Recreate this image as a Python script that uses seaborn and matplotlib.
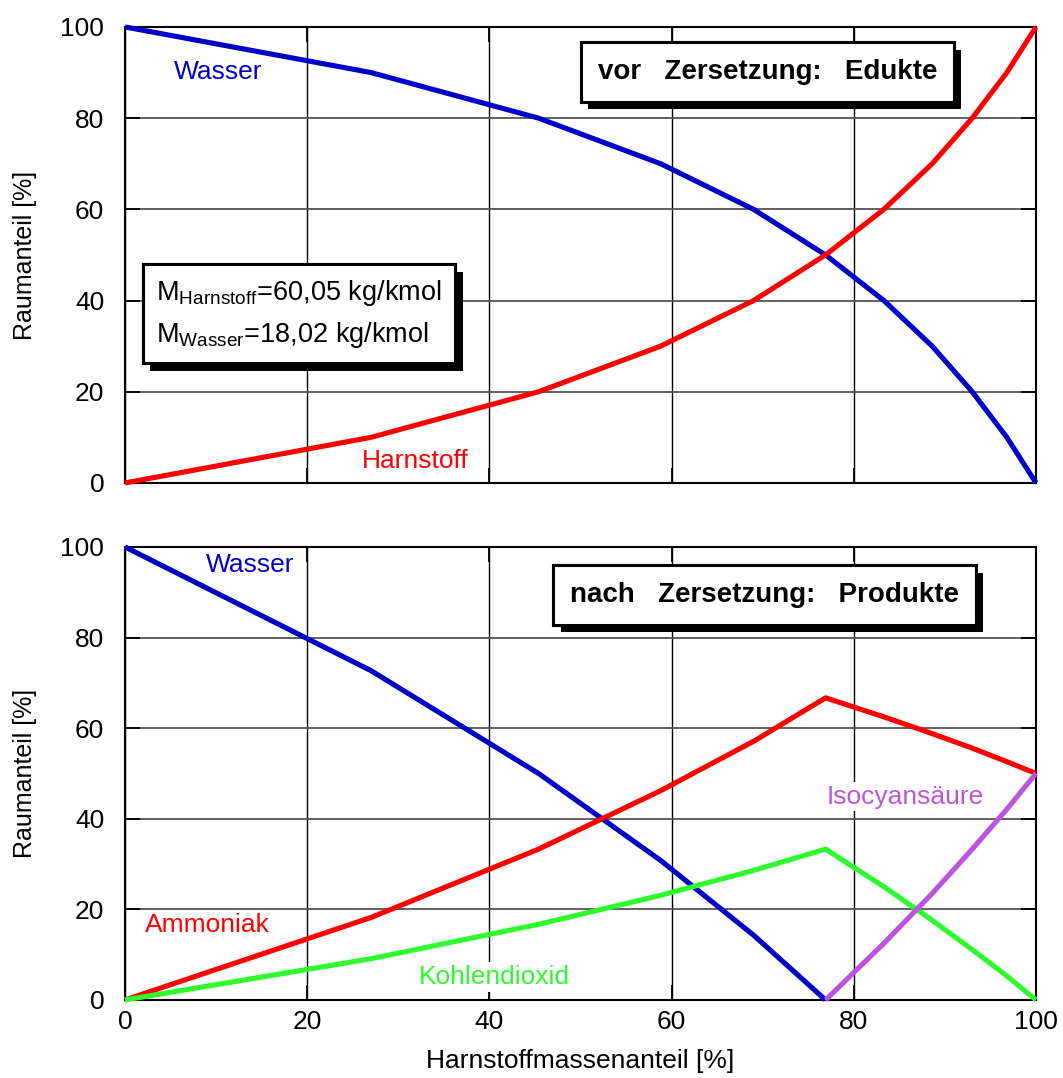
import matplotlib
matplotlib.use("Agg")
import matplotlib.pyplot as plt
import matplotlib.patheffects as pe
import seaborn as sns

# ---- data ----
massenanteil = [0, 27.0, 45.4, 58.8, 69.0, 76.9, 83.3, 88.6, 93.0, 96.8, 100]
edukt_wasser = [100, 90, 80, 70, 60, 50, 40, 30, 20, 10, 0]
edukt_harnstoff = [0, 10, 20, 30, 40, 50, 60, 70, 80, 90, 100]

prod_x_wasser = [0, 27.0, 45.4, 58.8, 69.0, 76.9]
prod_wasser = [100, 72.7, 50.0, 30.8, 14.3, 0]
prod_ammoniak = [0, 18.2, 33.3, 46.2, 57.1, 66.7, 62.5, 58.8, 55.6, 52.6, 50]
prod_co2 = [0, 9.1, 16.7, 23.1, 28.6, 33.3, 25.0, 17.6, 11.1, 5.3, 0]
prod_x_hnco = [76.9, 83.3, 88.6, 93.0, 96.8, 100]
prod_hnco = [0, 12.5, 23.5, 33.3, 42.1, 50]

ticks = [0, 20, 40, 60, 80, 100]

BLUE = "#0000C8"
RED = "#FF0000"
GREEN = "#2EFA2E"
PURPLE = "#BB55DD"

sns.set_theme(style="white")
plt.rcParams["font.family"] = ["Liberation Sans", "DejaVu Sans"]
plt.rcParams["mathtext.fontset"] = "custom"
plt.rcParams["mathtext.rm"] = "Liberation Sans"
plt.rcParams["mathtext.it"] = "Liberation Sans"
for key in ("text.color", "axes.labelcolor", "xtick.color", "ytick.color"):
    plt.rcParams[key] = "black"

fig = plt.figure(figsize=(10.63, 10.78), dpi=100)
ax1 = fig.add_axes([0.1176, 0.552, 0.857, 0.423])
ax2 = fig.add_axes([0.1176, 0.0724, 0.857, 0.4202])

FS = 19
LW = 3.7


def style(ax, show_x):
    ax.set_xlim(0, 100)
    ax.set_ylim(0, 100)
    ax.set_xticks(ticks)
    ax.set_yticks(ticks)
    ax.set_axisbelow(True)
    ax.xaxis.grid(True, color="black", linewidth=1.0)
    ax.yaxis.grid(True, color="#555555", linewidth=1.3)
    ax.tick_params(direction="in", length=11, width=1.3, color="black",
                   top=True, right=True, bottom=True, left=True,
                   labelsize=FS)
    ax.tick_params(axis="y", pad=15)
    ax.tick_params(axis="x", pad=7)
    if not show_x:
        ax.tick_params(labelbottom=False)
    for s in ax.spines.values():
        s.set_color("black")
        s.set_linewidth(1.5)
    ax.set_ylabel("Raumanteil [%]", fontsize=18, labelpad=17)
    ax.set_xlabel("")


def label(ax, x, y, txt, color):
    ax.text(x, y, txt, color=color, fontsize=FS, ha="center", va="center",
            zorder=1.5,
            bbox=dict(facecolor="white", edgecolor="none", pad=2))


def shadow_box(ax, x, y, txt, pad=0.7, fs=FS, **kw):
    t = ax.text(x, y, txt, ha="center", va="center", fontsize=fs, zorder=5,
                bbox=dict(boxstyle=f"square,pad={pad}", facecolor="white",
                          edgecolor="black", linewidth=2.2), **kw)
    t.get_bbox_patch().set_path_effects(
        [pe.withSimplePatchShadow(offset=(5.5, -5.5), shadow_rgbFace="black", alpha=1.0),
         pe.Normal()])
    return t


# ---- top panel: educts ----
sns.lineplot(x=massenanteil, y=edukt_wasser, ax=ax1, color=BLUE, linewidth=LW,
             estimator=None, sort=False, zorder=3)
sns.lineplot(x=massenanteil, y=edukt_harnstoff, ax=ax1, color=RED, linewidth=LW,
             estimator=None, sort=False, zorder=3)
style(ax1, show_x=False)
label(ax1, 10.2, 90.1, "Wasser", BLUE)
label(ax1, 31.9, 4.8, "Harnstoff", RED)
shadow_box(ax1, 70.5, 90.1, "vor   Zersetzung:   Edukte", pad=0.6, fs=20,
           fontweight="bold")
shadow_box(ax1, 19.1, 37.1,
           "M$_{\\mathrm{Harnstoff}}$=60,05 kg/kmol\nM$_{\\mathrm{Wasser}}$=18,02 kg/kmol",
           pad=0.5, fs=19.5, multialignment="left", linespacing=1.55)

# ---- bottom panel: products ----
sns.lineplot(x=prod_x_wasser, y=prod_wasser, ax=ax2, color=BLUE, linewidth=LW,
             estimator=None, sort=False, zorder=3)
sns.lineplot(x=massenanteil, y=prod_ammoniak, ax=ax2, color=RED, linewidth=LW,
             estimator=None, sort=False, zorder=3)
sns.lineplot(x=massenanteil, y=prod_co2, ax=ax2, color=GREEN, linewidth=LW,
             estimator=None, sort=False, zorder=3)
sns.lineplot(x=prod_x_hnco, y=prod_hnco, ax=ax2, color=PURPLE, linewidth=LW,
             estimator=None, sort=False, zorder=3)
style(ax2, show_x=True)
ax2.set_xlabel("Harnstoffmassenanteil [%]", fontsize=FS, labelpad=11)
label(ax2, 13.7, 96.0, "Wasser", BLUE)
label(ax2, 9.0, 16.6, "Ammoniak", RED)
label(ax2, 40.6, 5.1, "Kohlendioxid", GREEN)
label(ax2, 85.7, 44.9, "Isocyansäure", PURPLE)
shadow_box(ax2, 70.2, 89.4, "nach   Zersetzung:   Produkte", pad=0.6, fs=20,
           fontweight="bold")

for ax in (ax1, ax2):
    for ln in ax.get_lines():
        ln.set_solid_capstyle("butt")
        ln.set_clip_on(False)

fig.savefig("out.png", dpi=100)
